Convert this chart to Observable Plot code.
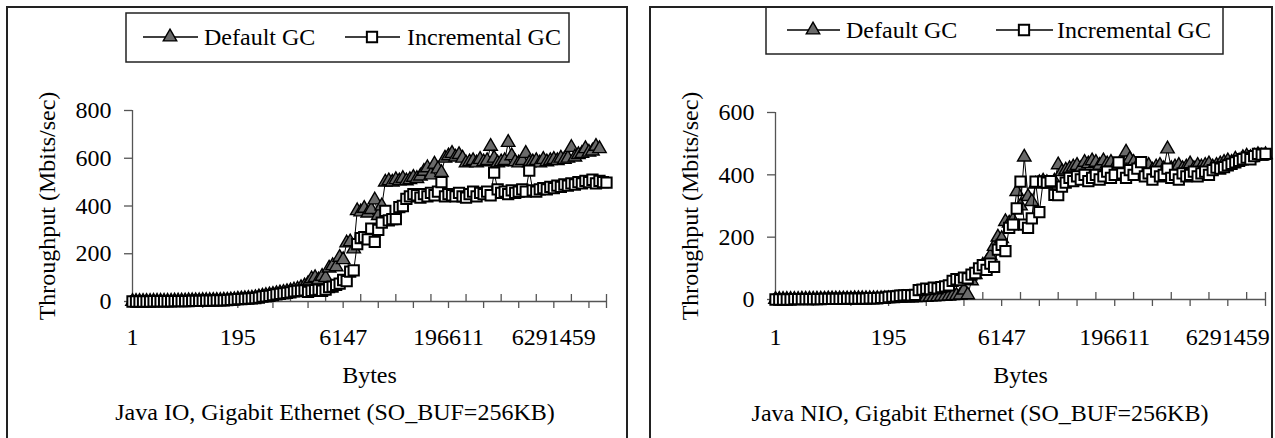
<!DOCTYPE html>
<html>
<head>
<meta charset="utf-8">
<script src="https://cdn.jsdelivr.net/npm/d3@7"></script>
<script src="https://cdn.jsdelivr.net/npm/@observablehq/plot@0.6"></script>
<style>
html,body{margin:0;padding:0;background:#fff;}
body{width:1275px;height:438px;position:relative;overflow:hidden;font-family:"Liberation Serif","Times New Roman",serif;color:#000;}
.panel{position:absolute;border:2px solid #222;box-sizing:border-box;}
.chart{position:absolute;}
</style>
</head>
<body>
<script>
// ---- data ----
const bytes = [1,2,3,4,6,8,12,13,16,19,21,24,27,29,32,35,45,48,51,61,64,67,93,96,99,125,128,131,189,192,195,
253,256,259,381,384,387,509,512,515,765,768,771,1021,1024,1027,1533,1536,1539,2045,2048,2051,3069,3072,3075,4093,4096,4099,6141,6144,6147,
8189,8192,8195,12285,12288,12291,16381,16384,16387,24573,24576,24579,32765,32768,32771,49149,49152,49155,65533,65536,65539,98301,98304,98307,131069,131072,131075,196605,196608,196611,
262141,262144,262147,393213,393216,393219,524285,524288,524291,786429,786432,786435,1048573,1048576,1048579,1572861,1572864,1572867,2097149,2097152,2097155,3145725,3145728,3145731,4194301,4194304,4194307,6291453,6291456,6291459,
8388605,8388608,8388611,12582909,12582912,12582915,16777213,16777216,16777219,25165821,25165824,25165827,33554429,33554432,33554435];

const labelBytes = [1, 195, 6147, 196611, 6291459];
const seriesNames = ["Default GC", "Incremental GC"];
const ioTicksY = [0, 200, 400, 600, 800];
const nioTicksY = [0, 200, 400, 600];
const captions = ["Java IO, Gigabit Ethernet (SO_BUF=256KB)", "Java NIO, Gigabit Ethernet (SO_BUF=256KB)"];
const xTitle = "Bytes";
const yTitle = "Throughput (Mbits/sec)";

const ioDefault = [0,0,0,0,0,0,1,1,1,1,
 1,1,2,2,2,2,3,3,3,3,
 4,4,4,5,5,5,6,6,7,8,
 10,11,12,13,14,16,19,22,25,28,
 30,33,36,38,41,44,48,52,58,65,
 75,95,100,90,105,100,140,150,145,185,
 175,245,250,220,380,375,390,370,385,425,
 360,400,500,505,500,510,505,515,505,510,
 520,515,525,545,560,530,575,555,540,600,
 610,620,605,615,600,580,585,590,580,595,
 585,590,650,600,580,585,590,666,610,585,
 580,590,620,580,585,590,580,595,585,590,
 595,590,600,595,600,645,605,615,620,640,
 625,630,650,640];

const ioIncremental = [0,0,0,0,0,0,1,1,1,1,
 1,1,2,2,2,2,2,3,3,3,
 3,4,4,4,5,5,5,6,7,8,
 10,10,11,12,13,14,16,20,22,24,
 27,30,32,34,36,38,42,44,45,47,
 40,45,48,50,45,50,60,62,70,75,
 90,85,125,130,240,265,270,260,305,250,
 300,330,380,340,345,345,395,400,430,440,
 450,445,435,450,440,455,445,460,500,440,
 450,445,440,455,440,435,450,460,440,455,
 450,460,445,540,470,455,460,450,465,455,
 460,470,460,548,465,460,470,475,470,480,
 475,485,480,490,485,495,490,500,495,505,
 500,510,495,505,500,498];

const nioDefault = [0,0,0,0,0,0,0,1,1,1,
 1,1,1,1,2,2,2,2,2,2,
 2,3,3,3,3,3,3,3,3,3,
 3,3,4,4,5,5,5,6,6,7,
 7,8,8,9,10,10,11,12,13,14,
 30,15,60,80,95,110,120,140,170,200,
 195,250,245,255,346,300,457,330,314,370,
 375,380,375,370,380,432,410,415,420,425,
 430,420,440,435,445,440,430,445,435,440,
 425,430,435,473,450,440,430,425,420,430,
 415,425,430,420,483,420,425,430,420,425,
 435,420,430,425,430,435,425,430,435,440,
 445,440,450,445,455,460,455,460,465,460,
 465];

const nioIncremental = [0,0,0,0,0,1,1,1,1,1,
 1,1,1,2,2,2,2,2,2,3,
 3,3,3,3,3,4,4,4,5,5,
 8,9,10,12,13,14,13,15,30,32,
 35,33,38,36,40,42,45,60,65,62,
 70,68,80,85,100,110,95,115,105,160,
 175,155,230,240,292,378,240,230,260,378,
 280,378,375,380,336,335,362,375,390,380,
 395,385,400,380,390,400,385,395,410,390,
 400,440,405,390,415,400,420,441,395,405,
 385,410,395,400,420,390,400,385,405,395,
 400,410,395,405,410,400,415,423,420,425,
 430,435,440,445,450,455,450,460,467,465,
 467];

const ioBytes = bytes.slice(0, ioIncremental.length);
const nioBytes = bytes.slice(0, nioIncremental.length);

// ---- drawing ----
const FONT = "Liberation Serif, Times New Roman, serif";
const FS = 24;
const AXIS = "#555";
const TRI_FILL = "#6a6a6a";
const TRI_R = 5, SQ_R = 5.8;

const panels = [
  {box: [6, 6, 622, 440], svg: [6, 60, 622, 360], m: [50, 22, 119, 126],
   cats: ioBytes, def: ioDefault, inc: ioIncremental, yMax: 800, yTicks: ioTicksY, xlDy: 36, bDy: 81},
  {box: [649, 6, 624, 440], svg: [649, 60, 624, 360], m: [52, 8, 121, 126],
   cats: nioBytes, def: nioDefault, inc: nioIncremental, yMax: 600, yTicks: nioTicksY, xlDy: 38, bDy: 83}
];

panels.forEach(p => {
  const box = document.createElement("div");
  box.className = "panel";
  Object.assign(box.style, {left: p.box[0] + "px", top: p.box[1] + "px", width: p.box[2] + "px", height: p.box[3] + "px"});
  document.body.appendChild(box);
});

panels.forEach(p => {
  const n = p.cats.length;
  const x0 = p.cats[0];
  const rowsD = p.def.map((v, i) => ({bytes: p.cats[i], v}));
  const rowsI = p.inc.map((v, i) => ({bytes: p.cats[i], v}));
  const downTicks = p.cats.filter((_, i) => i % 10 === 0 || i === n - 1);
  const upTicks = p.cats.filter((_, i) => i % 10 === 5 || i === n - 1);
  const chart = Plot.plot({
    width: p.svg[2], height: p.svg[3],
    marginTop: p.m[0], marginRight: p.m[1], marginBottom: p.m[2], marginLeft: p.m[3],
    x: {type: "point", domain: p.cats, padding: 0, axis: null},
    y: {type: "linear", domain: [0, p.yMax], axis: null},
    style: {fontFamily: FONT, fontSize: FS + "px", background: "transparent", color: "#000", overflow: "visible"},
    marks: [
      Plot.ruleY([0], {x1: x0, x2: p.cats[n - 1], stroke: AXIS, strokeWidth: 1.3}),
      Plot.ruleX([x0], {y1: 0, y2: p.yMax, stroke: AXIS, strokeWidth: 1.3}),
      Plot.ruleX(downTicks, {x: d => d, y1: 0, y2: 0, insetBottom: -7, stroke: AXIS, strokeWidth: 1.3}),
      Plot.ruleX(upTicks, {x: d => d, y1: 0, y2: 0, insetTop: -7, stroke: AXIS, strokeWidth: 1.3}),
      Plot.ruleY(p.yTicks, {y: d => d, x1: () => x0, x2: () => x0, insetLeft: -8, stroke: AXIS, strokeWidth: 1.3}),
      Plot.text(p.yTicks, {x: () => x0, y: d => d, text: d => String(d), textAnchor: "end", dx: -21, fontSize: FS, fontFamily: FONT, fill: "#000"}),
      Plot.text(labelBytes, {x: d => d, y: () => 0, text: d => String(d), dy: p.xlDy, fontSize: FS, fontFamily: FONT, fill: "#000"}),
      Plot.text([xTitle], {frameAnchor: "bottom", textAnchor: "middle", dy: p.bDy, fontSize: FS, fontFamily: FONT, fill: "#000"}),
      Plot.text([yTitle], {frameAnchor: "left", textAnchor: "middle", rotate: -90, dx: -85, fontSize: FS, fontFamily: FONT, fill: "#000"}),
      Plot.line(rowsD, {x: "bytes", y: "v", stroke: "#000", strokeWidth: 1}),
      Plot.dot(rowsD, {x: "bytes", y: "v", symbol: "triangle", r: TRI_R, fill: TRI_FILL, stroke: "#000", strokeWidth: 1.4}),
      Plot.line(rowsI, {x: "bytes", y: "v", stroke: "#000", strokeWidth: 1}),
      Plot.dot(rowsI, {x: "bytes", y: "v", symbol: "square", r: SQ_R, fill: "#fff", stroke: "#000", strokeWidth: 2})
    ]
  });
  chart.classList.add("chart");
  chart.style.left = p.svg[0] + "px";
  chart.style.top = p.svg[1] + "px";
  document.body.appendChild(chart);
});

// ---- legends and captions (overlay) ----
const legends = [
  {box: [126, 13, 443, 49], cy: 37, items: [{l1: 143, l2: 198, m: 170, tx: 204}, {l1: 345, l2: 400, m: 372, tx: 407}]},
  {box: [766, 7, 457, 47], cy: 30, items: [{l1: 787, l2: 840, m: 813, tx: 846}, {l1: 996, l2: 1053, m: 1024, tx: 1057}]}
];
const capPos = [{x: 335, y: 412}, {x: 980, y: 413}];

const ov = d3.select("body").append("svg")
  .attr("width", 1275).attr("height", 438)
  .style("position", "absolute").style("left", "0px").style("top", "0px")
  .style("font-family", FONT).style("font-size", FS + "px");

legends.forEach(L => {
  ov.append("rect").attr("x", L.box[0]).attr("y", L.box[1]).attr("width", L.box[2]).attr("height", L.box[3])
    .attr("fill", "none").attr("stroke", "#222").attr("stroke-width", 1.5);
  L.items.forEach((it, k) => {
    ov.append("line").attr("x1", it.l1).attr("x2", it.l2).attr("y1", L.cy).attr("y2", L.cy).attr("stroke", "#000").attr("stroke-width", 1.3);
    const r = k === 0 ? TRI_R : SQ_R;
    const sym = d3.symbol(k === 0 ? d3.symbolTriangle : d3.symbolSquare, Math.PI * r * r)();
    ov.append("path").attr("d", sym).attr("transform", `translate(${it.m},${L.cy})`)
      .attr("fill", k === 0 ? TRI_FILL : "#fff").attr("stroke", "#000").attr("stroke-width", k === 0 ? 1.4 : 2);
    ov.append("text").attr("x", it.tx).attr("y", L.cy).attr("dominant-baseline", "central").text(seriesNames[k]);
  });
});
captions.forEach((c, k) => {
  ov.append("text").attr("x", capPos[k].x).attr("y", capPos[k].y).attr("text-anchor", "middle")
    .attr("dominant-baseline", "central").text(c);
});
</script>
</body>
</html>
